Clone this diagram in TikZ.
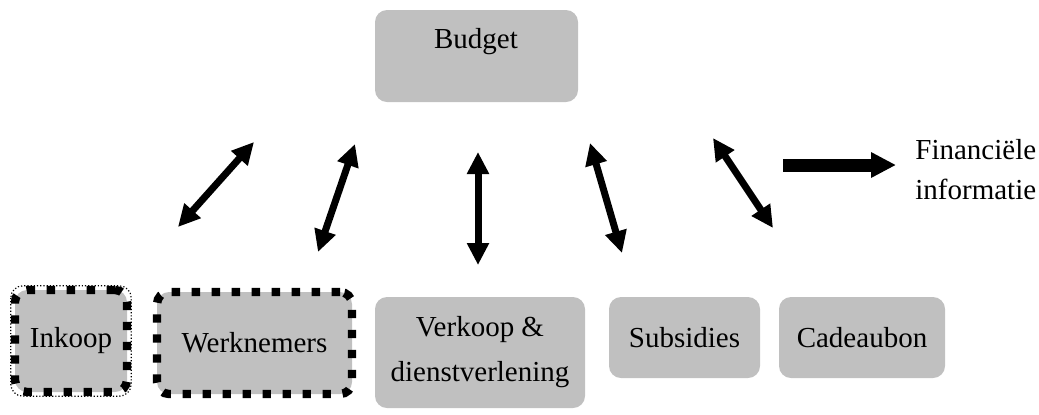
\documentclass[tikz,border=0pt]{standalone}
\usepackage{fontspec}
\setmainfont{Liberation Serif}
\usetikzlibrary{arrows.meta}
\definecolor{boxgray}{RGB}{192,192,192}
\tikzset{
  box/.style={fill=boxgray, rounded corners=6pt, inner sep=0pt, font=\fontsize{14.5}{22.5}\selectfont, align=center},
  dashbox/.style={box, draw=black, line width=4.2pt, dash pattern=on 4.2pt off 5.8pt},
  txt/.style={font=\fontsize{14.5}{20}\selectfont, align=left, inner sep=0pt},
  dbl/.style={line width=3.5pt, {Triangle[length=11pt,width=10.5pt]}-{Triangle[length=11pt,width=10.5pt]}},
  single/.style={line width=6.5pt, -{Triangle[length=12.5pt,width=12pt]}}
}
\begin{document}
\begin{tikzpicture}[x=0.5pt,y=-0.5pt]
\useasboundingbox (0,0) rectangle (1039,414);
% top box
\node[box, minimum width=101.5pt, minimum height=46pt] (budget) at (476.5,56) {};
\node[font=\fontsize{14.5}{20}\selectfont] (budgettxt) at (476,42) {Budget};
% bottom boxes
\node[dashbox, minimum width=56pt, minimum height=51pt] (inkoop) at (71,341) {Inkoop};
\draw[densely dotted, line width=0.6pt, rounded corners=6pt] (inkoop.north west) rectangle (inkoop.south east);
\node[dashbox, minimum width=97.5pt, minimum height=51pt] (werk) at (254.5,343) {Werknemers};
\node[box, minimum width=105pt, minimum height=55.5pt] (verkoop) at (480,352.5) {Verkoop \&\\dienstverlening};
\node[box, minimum width=75.5pt, minimum height=40.5pt] (subs) at (684.5,337.5) {Subsidies};
\node[box, minimum width=83pt, minimum height=40.5pt] (cadeau) at (862,337.5) {Cadeaubon};
% right label
\node[txt, anchor=west] (fin) at (915,170) {Financiële\\informatie};
% arrow end points
\coordinate (a1s) at (178,227); \coordinate (a1e) at (254,142);
\coordinate (a2s) at (318,252); \coordinate (a2e) at (355,144);
\coordinate (a3s) at (478,265); \coordinate (a3e) at (478,152);
\coordinate (a4s) at (622,253); \coordinate (a4e) at (590,143);
\coordinate (a5s) at (773,228); \coordinate (a5e) at (713,138);
\coordinate (fs) at (783,165); \coordinate (fe) at (896,165);
\draw[dbl] (a1s) -- (a1e);
\draw[dbl] (a2s) -- (a2e);
\draw[dbl] (a3s) -- (a3e);
\draw[dbl] (a4s) -- (a4e);
\draw[dbl] (a5s) -- (a5e);
\draw[single] (fs) -- (fe);
\end{tikzpicture}
\end{document}
